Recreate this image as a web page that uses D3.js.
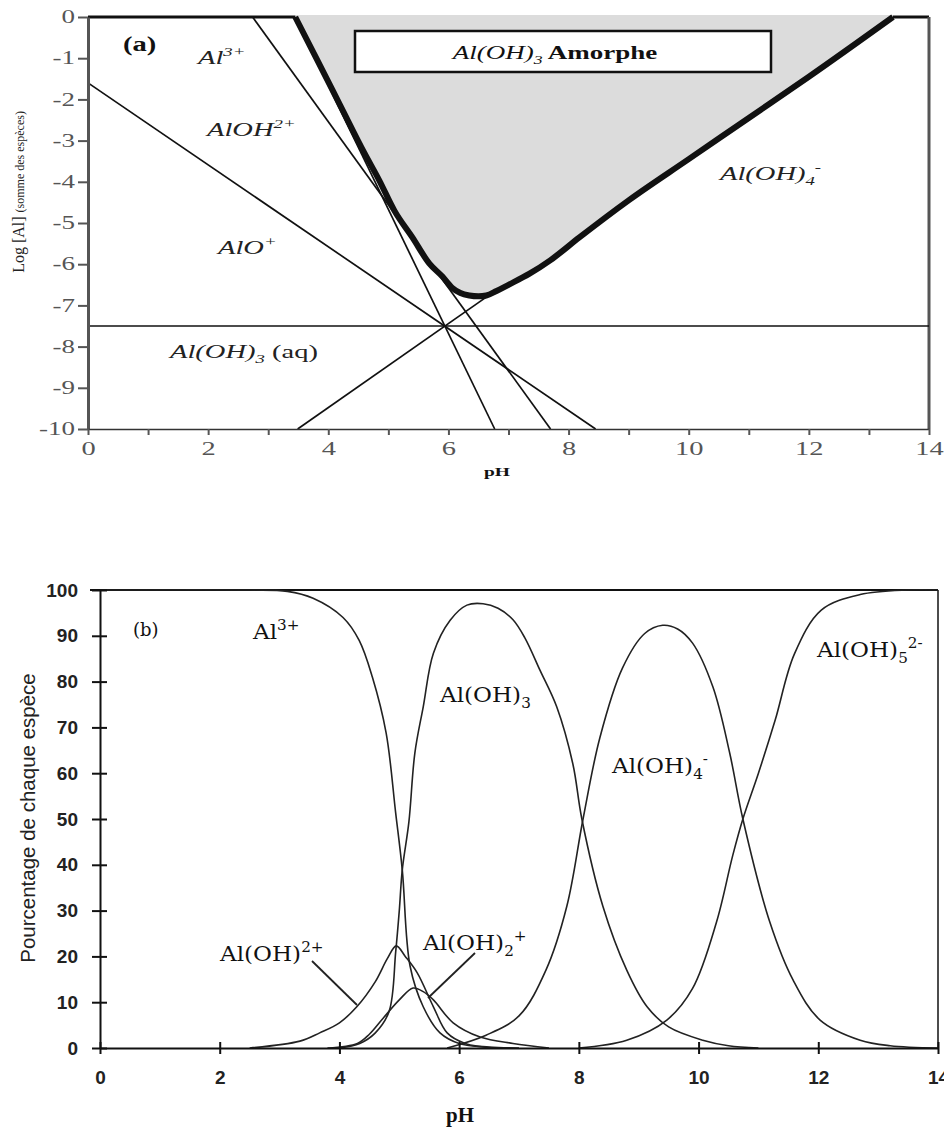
<!DOCTYPE html>
<html>
<head>
<meta charset="utf-8">
<script src="https://cdn.jsdelivr.net/npm/d3@7"></script>
<style>
  body { margin: 0; background: #fff; }
  svg { display: block; }
</style>
</head>
<body>
<div id="chart"></div>
<script>
// ---------- (a) log [Al] vs pH ----------
const logTicksA = [0, -1, -2, -3, -4, -5, -6, -7, -8, -9, -10];
const phTicksA = [0, 1, 2, 3, 4, 5, 6, 7, 8, 9, 10, 11, 12, 13, 14];
const phLabelsA = [0, 2, 4, 6, 8, 10, 12, 14];

// total solubility (thick line bounding the amorphous Al(OH)3 zone)
const totalPH  = [3.45, 3.8, 4.2, 4.6, 4.85, 5.1, 5.4, 5.68, 5.9, 6.06, 6.2, 6.35, 6.5, 6.63, 6.8, 7.0, 7.35, 7.7, 8.18, 9.0, 10, 11, 12, 13.4];
const totalLog = [0, -1.0, -2.15, -3.3, -3.97, -4.7, -5.35, -5.98, -6.3, -6.57, -6.7, -6.76, -6.78, -6.76, -6.65, -6.5, -6.23, -5.9, -5.35, -4.45, -3.45, -2.45, -1.45, 0];

// individual species lines
const al3PH = [3.45, 6.77],   al3Log = [0, -10];
const aloh2PH = [2.74, 7.7],  aloh2Log = [0, -10];
const aloPH = [0, 8.45],      aloLog = [-1.6, -10];
const aloh3aqPH = [0, 14],    aloh3aqLog = [-7.5, -7.5];
const aloh4PH = [3.49, 6.63], aloh4Log = [-10, -6.8];

// ---------- (b) % of each species vs pH ----------
const pctTicksB = [0, 10, 20, 30, 40, 50, 60, 70, 80, 90, 100];
const phTicksB = [0, 2, 4, 6, 8, 10, 12, 14];

const al3BPH  = [0, 2.5, 3.13, 3.56, 4.06, 4.33, 4.55, 4.78, 4.94, 5.05, 5.18, 5.4, 5.68, 6.0, 6.5, 7.0];
const al3BPct = [100, 100, 99.7, 98.2, 94, 89, 81, 68.8, 51.3, 38.9, 17.9, 9, 3.3, 1, 0.2, 0];

const aloh3BPH  = [4.0, 4.34, 4.6, 4.83, 4.94, 5.0, 5.05, 5.16, 5.26, 5.4, 5.57, 5.85, 6.13, 6.4, 6.65, 6.9, 7.1, 7.35, 7.63, 7.9, 8.05, 8.4, 8.8, 9.14, 9.5, 10.07, 10.5, 11];
const aloh3BPct = [0, 1, 3.3, 8, 21, 30, 38.9, 49.3, 64.4, 74.5, 86.2, 93.4, 96.7, 97, 96, 93.5, 89.5, 82.5, 74.5, 62, 50, 31, 17, 9, 4.6, 1.7, 0.5, 0];

const aloh4BPH  = [5.8, 6.45, 7.0, 7.45, 7.8, 8.07, 8.35, 8.73, 9.1, 9.4, 9.65, 9.9, 10.24, 10.52, 10.74, 11.19, 11.58, 12.03, 12.7, 13.2, 14];
const aloh4BPct = [0, 2.8, 7, 17, 31, 50, 67.7, 83, 90.5, 92.3, 91.5, 88.4, 78.8, 64.4, 50, 27.5, 14.8, 6.1, 1.7, 0.5, 0];

const aloh5BPH  = [8.0, 8.8, 9.47, 9.9, 10.3, 10.57, 10.74, 11.0, 11.28, 11.6, 12.05, 12.7, 13.5, 14];
const aloh5BPct = [0, 1.7, 6.1, 13, 27.5, 42, 50, 60, 71.6, 86, 95.6, 99, 100, 100];

const aloh2BPH  = [2.5, 3.34, 3.67, 4.0, 4.29, 4.6, 4.8, 4.95, 5.1, 5.3, 5.57, 5.8, 6.1, 6.6];
const aloh2BPct = [0, 1.5, 3.3, 5.5, 9, 14.5, 19.5, 22.3, 20, 16.4, 9, 3.3, 1, 0];

const alohh2BPH  = [3.8, 4.3, 4.5, 4.73, 5.0, 5.23, 5.4, 5.57, 5.9, 6.35, 6.9, 7.5];
const alohh2BPct = [0, 1, 3, 6.5, 10.5, 13.1, 12.3, 10.5, 5.5, 2.4, 1, 0];

const W = 944, H = 1128;
const serif = "'Liberation Serif', 'Times New Roman', serif";
const sans = "'Liberation Sans', Arial, sans-serif";
const SX = 1.5;   // panel (a) glyphs are stretched sideways

const svg = d3.select("#chart").append("svg")
    .attr("width", W)
    .attr("height", H);

// text with sub/superscripts: parts = [[text, "sup"|"sub"|null, {attrs}]]
function rich(g, x, y, parts, base) {
    const t = g.append("text")
        .attr("transform", `translate(${x},${y}) scale(${base.sx || 1},1)`)
        .attr("font-family", base.family)
        .attr("font-size", base.size)
        .attr("font-style", base.style || "normal")
        .attr("font-weight", base.weight || "normal")
        .attr("text-anchor", base.anchor || "start")
        .attr("fill", base.fill || "#111");
    let cur = 0;
    parts.forEach(([txt, pos, extra]) => {
        const off = pos === "sup" ? -0.42 * base.size : pos === "sub" ? 0.28 * base.size : 0;
        const ts = t.append("tspan").attr("dy", off - cur).text(txt);
        if (pos) ts.attr("font-size", base.size * 0.66);
        if (extra) Object.entries(extra).forEach(([k, v]) => ts.attr(k, v));
        cur = off;
    });
    return t;
}

// ================= panel (a) =================
const xA = d3.scaleLinear().domain([0, 14]).range([88, 929]);
const yA = d3.scaleLinear().domain([-10, 0]).range([429, 17]);
const gA = svg.append("g");

// frame
gA.append("line")
    .attr("x1", xA(0)).attr("x2", xA(14))
    .attr("y1", yA(0)).attr("y2", yA(0))
    .attr("stroke", "#111").attr("stroke-width", 3);
gA.append("line")
    .attr("x1", xA(14)).attr("x2", xA(14))
    .attr("y1", yA(0)).attr("y2", yA(-10))
    .attr("stroke", "#555").attr("stroke-width", 3);

const totalData = d3.zip(totalPH, totalLog);

// grey amorphous zone
gA.append("path")
    .datum(totalData)
    .attr("fill", "#dcdcdc")
    .attr("d", d3.area()
        .x(d => xA(d[0]))
        .y0(yA(0) - 2)
        .y1(d => yA(d[1]))
        .curve(d3.curveMonotoneX));

const lineA = d3.line().x(d => xA(d[0])).y(d => yA(d[1]));
const speciesA = [
    [al3PH, al3Log],
    [aloh2PH, aloh2Log],
    [aloPH, aloLog],
    [aloh3aqPH, aloh3aqLog],
    [aloh4PH, aloh4Log]
];
gA.selectAll(".species")
    .data(speciesA)
    .enter()
    .append("path")
    .attr("class", "species")
    .attr("fill", "none")
    .attr("stroke", "#111")
    .attr("stroke-width", 1.7)
    .attr("d", d => lineA(d3.zip(d[0], d[1])));

gA.append("path")
    .datum(totalData)
    .attr("fill", "none")
    .attr("stroke", "#111")
    .attr("stroke-width", 6)
    .attr("stroke-linejoin", "round")
    .attr("d", lineA.curve(d3.curveMonotoneX));

// axes
const yAxisA = gA.append("g")
    .attr("transform", `translate(${xA(0)},0)`)
    .call(d3.axisLeft(yA).tickValues(logTicksA).tickFormat(d => String(d)).tickSize(10).tickSizeOuter(0));
yAxisA.select(".domain").attr("stroke", "#555").attr("stroke-width", 3);
yAxisA.selectAll(".tick line").attr("stroke", "#555").attr("stroke-width", 2);
yAxisA.selectAll(".tick text")
    .attr("x", -13 / SX)
    .attr("transform", `scale(${SX},1)`)
    .attr("font-family", serif)
    .attr("font-size", 18)
    .attr("fill", "#555");

const xAxisA = gA.append("g")
    .attr("transform", `translate(0,${yA(-10)})`)
    .call(d3.axisBottom(xA).tickValues(phTicksA)
        .tickFormat(d => phLabelsA.includes(d) ? String(d) : "")
        .tickSize(6).tickSizeOuter(0));
xAxisA.select(".domain").attr("stroke", "#333").attr("stroke-width", 1.5);
xAxisA.selectAll(".tick line").attr("stroke", "#555").attr("stroke-width", 2);
xAxisA.selectAll(".tick text")
    .attr("y", 13)
    .attr("transform", `scale(${SX},1)`)
    .attr("font-family", serif)
    .attr("font-size", 19)
    .attr("fill", "#555");

rich(gA, 497, 476, [["pH", null]],
    { family: serif, size: 13, weight: "bold", anchor: "middle", sx: SX });

const yLabA = gA.append("text")
    .attr("transform", "translate(24,192) rotate(-90)")
    .attr("text-anchor", "middle")
    .attr("font-family", serif)
    .attr("fill", "#222");
yLabA.append("tspan").attr("font-size", 16).text("Log [Al] ");
yLabA.append("tspan").attr("font-size", 12).text("(somme des espèces)");

// box
gA.append("rect")
    .attr("x", 355).attr("y", 31)
    .attr("width", 416).attr("height", 41)
    .attr("fill", "#fff")
    .attr("stroke", "#111")
    .attr("stroke-width", 2.5);
rich(gA, 555, 59, [
    ["Al(OH)", null],
    ["3", "sub"],
    [" Amorphe", null, { "font-style": "normal", "font-weight": "bold" }]
], { family: serif, size: 18, style: "italic", anchor: "middle", sx: SX });

// labels
rich(gA, 123, 51, [["(a)", null]],
    { family: serif, size: 22, weight: "bold", sx: 1.3 });

const itA = { family: serif, size: 19, style: "italic", fill: "#222", sx: SX };
rich(gA, 198, 64, [["Al", null], ["3+", "sup"]], itA);
rich(gA, 207, 136, [["AlOH", null], ["2+", "sup"]], itA);
rich(gA, 218, 254, [["AlO", null], ["+", "sup"]], itA);
rich(gA, 170, 358, [["Al(OH)", null], ["3", "sub"], [" (aq)", null, { "font-style": "normal" }]], itA);
rich(gA, 720, 180, [["Al(OH)", null], ["4", "sub"], ["-", "sup"]], itA);

// ================= panel (b) =================
const xB = d3.scaleLinear().domain([0, 14]).range([100, 938]);
const yB = d3.scaleLinear().domain([0, 100]).range([1048, 590]);
const gB = svg.append("g");

// frame
gB.append("line")
    .attr("x1", 90).attr("x2", xB(14))
    .attr("y1", yB(100)).attr("y2", yB(100))
    .attr("stroke", "#111").attr("stroke-width", 2);
gB.append("line")
    .attr("x1", xB(14)).attr("x2", xB(14))
    .attr("y1", yB(100)).attr("y2", yB(0))
    .attr("stroke", "#111").attr("stroke-width", 1.5);

const lineB = d3.line()
    .x(d => xB(d[0]))
    .y(d => yB(Math.max(0, d[1])))
    .curve(d3.curveCatmullRom.alpha(0.5));
const speciesB = [
    [al3BPH, al3BPct],
    [aloh3BPH, aloh3BPct],
    [aloh4BPH, aloh4BPct],
    [aloh5BPH, aloh5BPct],
    [aloh2BPH, aloh2BPct],
    [alohh2BPH, alohh2BPct]
];
gB.selectAll(".curve")
    .data(speciesB)
    .enter()
    .append("path")
    .attr("class", "curve")
    .attr("fill", "none")
    .attr("stroke", "#222")
    .attr("stroke-width", 1.6)
    .attr("d", d => lineB(d3.zip(d[0], d[1])));

const yAxisB = gB.append("g")
    .attr("transform", `translate(${xB(0)},0)`)
    .call(d3.axisLeft(yB).tickValues(pctTicksB).tickSize(8).tickSizeOuter(0));
yAxisB.select(".domain").attr("stroke", "#111").attr("stroke-width", 2);
yAxisB.selectAll(".tick line").attr("x1", 7).attr("stroke", "#111").attr("stroke-width", 2);
yAxisB.selectAll(".tick text")
    .attr("x", -22)
    .attr("font-family", sans)
    .attr("font-weight", "bold")
    .attr("font-size", 19)
    .attr("fill", "#222");

const xAxisB = gB.append("g")
    .attr("transform", `translate(0,${yB(0)})`)
    .call(d3.axisBottom(xB).tickValues(phTicksB).tickSize(6).tickSizeOuter(0));
xAxisB.select(".domain").attr("stroke", "#111").attr("stroke-width", 2);
xAxisB.selectAll(".tick line").attr("y1", -6).attr("stroke", "#111").attr("stroke-width", 2);
xAxisB.selectAll(".tick text")
    .attr("y", 23)
    .attr("font-family", sans)
    .attr("font-weight", "bold")
    .attr("font-size", 19)
    .attr("fill", "#222");

gB.append("text")
    .attr("x", 460).attr("y", 1122)
    .attr("text-anchor", "middle")
    .attr("font-family", serif)
    .attr("font-weight", "bold")
    .attr("font-size", 21)
    .attr("fill", "#111")
    .text("pH");

gB.append("text")
    .attr("transform", "translate(35,818) rotate(-90)")
    .attr("text-anchor", "middle")
    .attr("font-family", sans)
    .attr("font-size", 20.5)
    .attr("fill", "#222")
    .text("Pourcentage de chaque espèce");

// labels
gB.append("text")
    .attr("x", 133).attr("y", 636)
    .attr("font-family", "'DejaVu Serif', serif")
    .attr("font-size", 18)
    .attr("fill", "#111")
    .text("(b)");

const lbB = { family: "'DejaVu Serif', serif", size: 21, fill: "#111", sx: 1.1 };
rich(gB, 253, 639, [["Al", null], ["3+", "sup"]], lbB);
rich(gB, 440, 702, [["Al(OH)", null], ["3", "sub"]], lbB);
rich(gB, 612, 773, [["Al(OH)", null], ["4", "sub"], ["-", "sup"]], lbB);
rich(gB, 817, 657, [["Al(OH)", null], ["5", "sub"], ["2-", "sup"]], lbB);
rich(gB, 220, 961, [["Al(OH)", null], ["2+", "sup"]], lbB);
rich(gB, 423, 950, [["Al(OH)", null], ["2", "sub"], ["+", "sup"]], lbB);

// pointer lines
gB.append("line")
    .attr("x1", 312).attr("y1", 961)
    .attr("x2", 357).attr("y2", 1005)
    .attr("stroke", "#222").attr("stroke-width", 1.8);
gB.append("line")
    .attr("x1", 475).attr("y1", 953)
    .attr("x2", 428).attr("y2", 998)
    .attr("stroke", "#222").attr("stroke-width", 1.8);
</script>
</body>
</html>
